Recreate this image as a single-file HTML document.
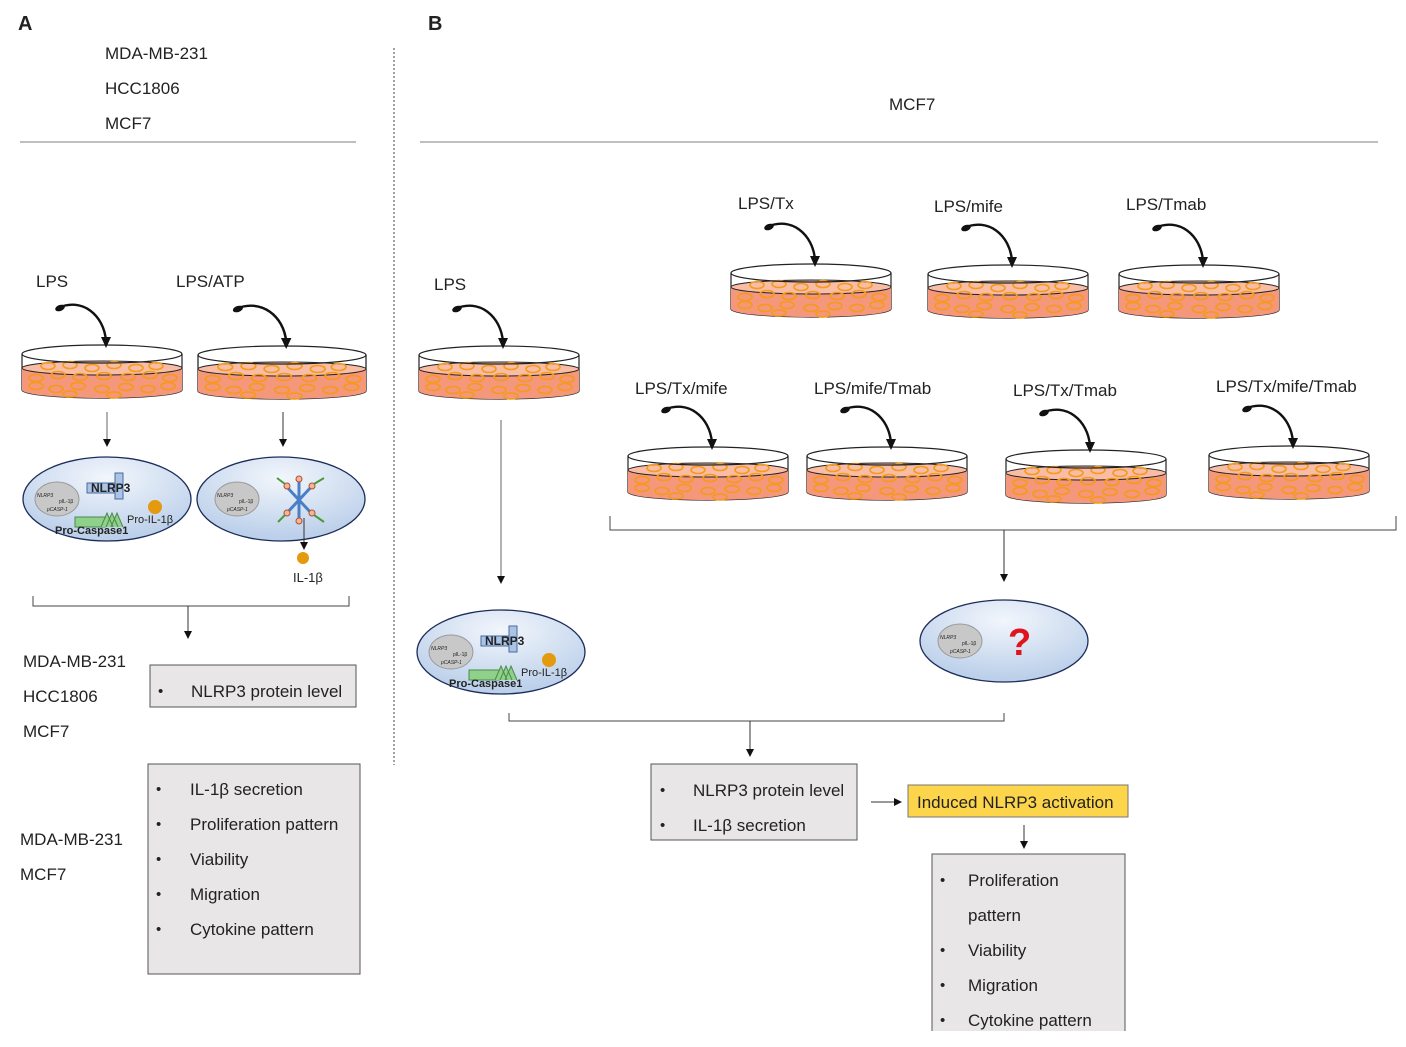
<!DOCTYPE html>
<html><head><meta charset="utf-8"><style>
body{margin:0;background:#fff}
svg{display:block}
text{font-family:"Liberation Sans",sans-serif;fill:#222}
</style></head><body>
<svg width="1406" height="1047" viewBox="0 0 1406 1047" xmlns="http://www.w3.org/2000/svg">
<defs>
<marker id="ah" markerWidth="8" markerHeight="8" refX="6" refY="4" orient="auto" markerUnits="userSpaceOnUse"><path d="M0,0 L8,4 L0,8 z" fill="#111"/></marker>
<g id="dish">
<path d="M0,9 L0,45 A80,8 0 0 0 160,45 L160,9" fill="#fff" stroke="#222" stroke-width="1.2"/>
<path d="M0,23 L0,45 A80,8 0 0 0 160,45 L160,23 A80,7 0 0 1 0,23z" fill="#f4977a"/>
<ellipse cx="80" cy="23" rx="80" ry="7" fill="#f9bca5" stroke="#222" stroke-width="1"/>
<g fill="none" stroke="#f59a1a" stroke-width="1.6">
<ellipse cx="26" cy="21" rx="7" ry="3.5"/><ellipse cx="48" cy="20" rx="7" ry="3.5"/><ellipse cx="70" cy="23" rx="7" ry="3.5"/><ellipse cx="92" cy="20" rx="7" ry="3.5"/><ellipse cx="114" cy="23" rx="7" ry="3.5"/><ellipse cx="134" cy="21" rx="7" ry="3.5"/>
<ellipse cx="14" cy="33" rx="7" ry="3.5"/><ellipse cx="36" cy="30" rx="7" ry="3.5"/><ellipse cx="58" cy="32" rx="7" ry="3.5"/><ellipse cx="82" cy="31" rx="7" ry="3.5"/><ellipse cx="106" cy="32" rx="7" ry="3.5"/><ellipse cx="128" cy="30" rx="7" ry="3.5"/><ellipse cx="148" cy="33" rx="7" ry="3.5"/>
<ellipse cx="14" cy="41" rx="7" ry="3.5"/><ellipse cx="34" cy="44" rx="7" ry="3.5"/><ellipse cx="56" cy="41" rx="7" ry="3.5"/><ellipse cx="80" cy="44" rx="7" ry="3.5"/><ellipse cx="104" cy="42" rx="7" ry="3.5"/><ellipse cx="126" cy="44" rx="7" ry="3.5"/><ellipse cx="146" cy="41" rx="7" ry="3.5"/>
<ellipse cx="48" cy="49" rx="7" ry="3"/><ellipse cx="92" cy="50" rx="7" ry="3"/>
</g>
<ellipse cx="80" cy="9" rx="80" ry="9" fill="none" stroke="#222" stroke-width="1.2"/>
<path d="M36,-37 C60,-48 82,-30 84,-4" fill="none" stroke="#111" stroke-width="2.4"/>
<ellipse cx="38" cy="-37" rx="5" ry="3" transform="rotate(-20 38 -37)" fill="#111"/>
<path d="M79,-8 L84,3 L89,-8 z" fill="#111"/>
</g>
<radialGradient id="cg" cx="50%" cy="25%" r="70%"><stop offset="0" stop-color="#f2f6fc"/><stop offset="1" stop-color="#bcd0ea"/></radialGradient>
<g id="nuc">
<ellipse cx="0" cy="0" rx="22" ry="17" fill="#c8c8c8" stroke="#999"/>
<text x="-20" y="-2" font-size="5" font-style="italic">NLRP3</text>
<text x="2" y="4" font-size="5">pIL-1β</text>
<text x="-10" y="12" font-size="5" font-style="italic">pCASP-1</text>
</g>
<g id="cell1">
<ellipse cx="0" cy="0" rx="84" ry="42" fill="url(#cg)" stroke="#1d2d5a" stroke-width="1.3"/>
<use href="#nuc" x="-50" y="0"/>
<rect x="-20" y="-16" width="36" height="10" fill="#a9c4e6" stroke="#4a6a9a"/>
<rect x="8" y="-26" width="8" height="26" fill="#a9c4e6" stroke="#4a6a9a"/>
<text x="-16" y="-7" font-size="12" font-weight="bold" fill="#111">NLRP3</text>
<rect x="-32" y="18" width="30" height="10" fill="#8fd08a" stroke="#4a8a4a"/>
<path d="M-6,28 L0,14 L6,28 M-1,28 L5,14 L11,28 M4,28 L10,14 L16,28" fill="#8fd08a" stroke="#4a8a4a"/>
<circle cx="48" cy="8" r="7" fill="#e39a0e"/>
<text x="20" y="24" font-size="11" fill="#2a3a6a">Pro-IL-1β</text>
<text x="-52" y="35" font-size="11" font-weight="bold" fill="#111">Pro-Caspase1</text>
</g>
</defs>

<!-- Section A -->
<text x="18" y="30" font-size="20" font-weight="bold">A</text>
<text x="105" y="59" font-size="17">MDA-MB-231</text>
<text x="105" y="94" font-size="17">HCC1806</text>
<text x="105" y="129" font-size="17">MCF7</text>
<line x1="20" y1="142" x2="356" y2="142" stroke="#999" stroke-width="1.3"/>
<line x1="394" y1="48" x2="394" y2="765" stroke="#444" stroke-width="1" stroke-dasharray="2,2"/>

<text x="36" y="287" font-size="17">LPS</text>
<text x="176" y="287" font-size="17">LPS/ATP</text>
<use href="#dish" x="22" y="345"/>
<use href="#dish" transform="translate(198,346) scale(1.05,1)"/>
<line x1="107" y1="412" x2="107" y2="445" stroke="#666" marker-end="url(#ah)"/>
<line x1="283" y1="412" x2="283" y2="445" stroke="#333" marker-end="url(#ah)"/>
<use href="#cell1" x="107" y="499"/>
<ellipse cx="281" cy="499" rx="84" ry="42" fill="url(#cg)" stroke="#1d2d5a" stroke-width="1.3"/>
<use href="#nuc" x="237" y="499"/>
<g stroke="#4a7fc6" stroke-width="3"><line x1="285" y1="485" x2="313" y2="515"/><line x1="313" y1="485" x2="285" y2="515"/><line x1="299" y1="480" x2="299" y2="520"/></g>
<g fill="#f4b59a" stroke="#b05030"><circle cx="287" cy="486" r="3"/><circle cx="312" cy="486" r="3"/><circle cx="287" cy="513" r="3"/><circle cx="312" cy="513" r="3"/><circle cx="299" cy="479" r="3"/><circle cx="299" cy="521" r="3"/></g>
<g stroke="#4a9a3a" stroke-width="2"><line x1="285" y1="484" x2="277" y2="478"/><line x1="314" y1="484" x2="324" y2="478"/><line x1="285" y1="515" x2="278" y2="522"/><line x1="314" y1="515" x2="324" y2="522"/></g>
<line x1="304" y1="518" x2="304" y2="548" stroke="#333" marker-end="url(#ah)"/>
<circle cx="303" cy="558" r="6" fill="#e39a0e"/>
<text x="293" y="582" font-size="13" fill="#1f3a6a">IL-1β</text>

<path d="M33,596 L33,606 L349,606 L349,596" fill="none" stroke="#444"/>
<line x1="188" y1="606" x2="188" y2="637" stroke="#333" marker-end="url(#ah)"/>
<text x="23" y="667" font-size="17">MDA-MB-231</text>
<text x="23" y="702" font-size="17">HCC1806</text>
<text x="23" y="737" font-size="17">MCF7</text>
<rect x="150" y="665" width="206" height="42" fill="#e8e6e6" stroke="#555"/>
<text x="158" y="696" font-size="15">•</text><text x="191" y="697" font-size="17">NLRP3 protein level</text>

<text x="20" y="845" font-size="17">MDA-MB-231</text>
<text x="20" y="880" font-size="17">MCF7</text>
<rect x="148" y="764" width="212" height="210" fill="#e8e6e6" stroke="#555"/>
<g font-size="17">
<text x="156" y="794" font-size="15">•</text><text x="190" y="795">IL-1β secretion</text>
<text x="156" y="829" font-size="15">•</text><text x="190" y="830">Proliferation pattern</text>
<text x="156" y="864" font-size="15">•</text><text x="190" y="865">Viability</text>
<text x="156" y="899" font-size="15">•</text><text x="190" y="900">Migration</text>
<text x="156" y="934" font-size="15">•</text><text x="190" y="935">Cytokine pattern</text>
</g>

<!-- Section B -->
<text x="428" y="30" font-size="20" font-weight="bold">B</text>
<text x="889" y="110" font-size="17">MCF7</text>
<line x1="420" y1="142" x2="1378" y2="142" stroke="#999" stroke-width="1.3"/>

<text x="434" y="290" font-size="17">LPS</text>
<use href="#dish" x="419" y="346"/>
<line x1="501" y1="420" x2="501" y2="582" stroke="#666" marker-end="url(#ah)"/>

<g font-size="17">
<text x="738" y="209">LPS/Tx</text>
<text x="934" y="212">LPS/mife</text>
<text x="1126" y="210">LPS/Tmab</text>
<text x="635" y="394">LPS/Tx/mife</text>
<text x="814" y="394">LPS/mife/Tmab</text>
<text x="1013" y="396">LPS/Tx/Tmab</text>
<text x="1216" y="392">LPS/Tx/mife/Tmab</text>
</g>
<use href="#dish" x="731" y="264"/>
<use href="#dish" x="928" y="265"/>
<use href="#dish" x="1119" y="265"/>
<use href="#dish" x="628" y="447"/>
<use href="#dish" x="807" y="447"/>
<use href="#dish" x="1006" y="450"/>
<use href="#dish" x="1209" y="446"/>

<path d="M610,516 L610,530 L1396,530 L1396,516" fill="none" stroke="#444"/>
<line x1="1004" y1="530" x2="1004" y2="580" stroke="#333" marker-end="url(#ah)"/>

<use href="#cell1" x="501" y="652"/>
<ellipse cx="1004" cy="641" rx="84" ry="41" fill="url(#cg)" stroke="#1d2d5a" stroke-width="1.3"/>
<use href="#nuc" x="960" y="641"/>
<text x="1008" y="655" font-size="38" font-weight="bold" style="fill:#e0141c">?</text>

<path d="M509,713 L509,721 L1004,721 L1004,713" fill="none" stroke="#444"/>
<line x1="750" y1="721" x2="750" y2="755" stroke="#333" marker-end="url(#ah)"/>

<rect x="651" y="764" width="206" height="76" fill="#e8e6e6" stroke="#555"/>
<text x="660" y="795" font-size="15">•</text><text x="693" y="796" font-size="17">NLRP3 protein level</text>
<text x="660" y="830" font-size="15">•</text><text x="693" y="831" font-size="17">IL-1β secretion</text>
<line x1="871" y1="802" x2="900" y2="802" stroke="#333" marker-end="url(#ah)"/>
<rect x="908" y="785" width="220" height="32" fill="#fcd54a" stroke="#777"/>
<text x="917" y="808" font-size="17">Induced NLRP3 activation</text>
<line x1="1024" y1="825" x2="1024" y2="847" stroke="#333" marker-end="url(#ah)"/>
<path d="M932,1031 L932,854 L1125,854 L1125,1031" fill="#e8e6e6" stroke="#555"/>
<g font-size="17">
<text x="940" y="885" font-size="15">•</text><text x="968" y="886">Proliferation</text>
<text x="968" y="921">pattern</text>
<text x="940" y="955" font-size="15">•</text><text x="968" y="956">Viability</text>
<text x="940" y="990" font-size="15">•</text><text x="968" y="991">Migration</text>
<text x="940" y="1025" font-size="15">•</text><text x="968" y="1026">Cytokine pattern</text>
</g>
</svg>
</body></html>
